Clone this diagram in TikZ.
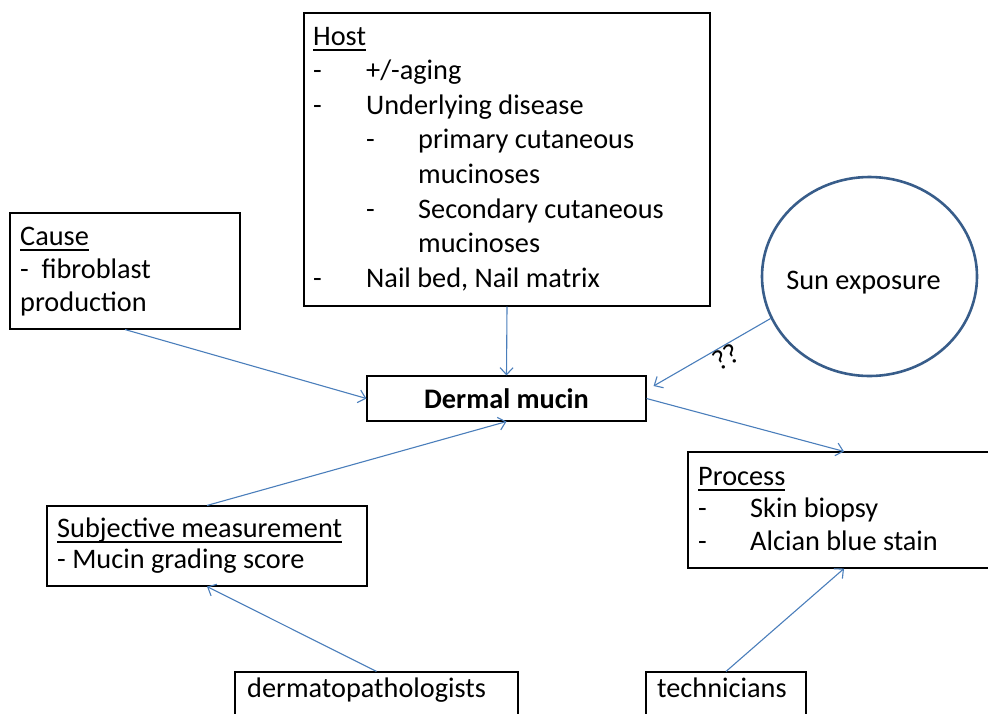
\documentclass[tikz,border=0pt]{standalone}
\usepackage{fontspec}
\setmainfont{Carlito}
\usetikzlibrary{arrows.meta,calc,shapes.geometric}
\definecolor{arrowblue}{RGB}{74,126,187}
\definecolor{circblue}{RGB}{56,93,138}
\newcommand\ulx[1]{\leavevmode\setbox0=\hbox{#1}\rlap{\rule[-5.5pt]{\wd0}{1.5pt}}\box0}
\newcommand\dsh[1]{\makebox[#1][l]{-}}
\begin{document}
\begin{tikzpicture}[x=1pt,y=-1pt,
  box/.style={draw=black, line width=1.1pt, inner sep=0pt},
  txt/.style={anchor=base west, inner sep=0pt},
  conn/.style={draw=arrowblue, line width=1.1pt, -{Straight Barb[length=7pt,width=13pt,line width=1.1pt]}}]
\useasboundingbox (0,0) rectangle (988,713);

% boxes
\node[box, minimum width=406pt, minimum height=293pt] (host) at (507,159.5) {};
\node[box, minimum width=230pt, minimum height=116pt] (cause) at (125,271) {};
\node[box, minimum width=279pt, minimum height=45pt,
      font=\fontsize{28.3pt}{34.6pt}\selectfont\bfseries] (dermal) at (506.5,398.5) {Dermal mucin};
\node[box, minimum width=312pt, minimum height=116pt] (process) at (844,510) {};
\node[box, minimum width=320pt, minimum height=80pt] (subj) at (207,546) {};
\node[box, minimum width=283pt, minimum height=68pt] (dermato) at (376.5,706) {};
\node[box, minimum width=160pt, minimum height=68pt] (tech) at (726,706) {};
\node[ellipse, draw=circblue, line width=2.6pt, minimum width=215pt, minimum height=199pt, inner sep=0pt] (sun) at (869.5,276.5) {};

% texts
\node[txt, font=\fontsize{28.3pt}{34.6pt}\selectfont] (hostT) at (313,45) {\begin{tabular}[t]{@{}l@{}}
\ulx{Host}\\
\dsh{53pt}+/-aging\\
\dsh{53pt}Underlying disease\\
\hspace*{53pt}\dsh{52pt}primary cutaneous\\
\hspace*{105pt}mucinoses\\
\hspace*{53pt}\dsh{52pt}Secondary cutaneous\\
\hspace*{105pt}mucinoses\\
\dsh{53pt}Nail bed, Nail matrix
\end{tabular}};
\node[txt, font=\fontsize{28.3pt}{33.3pt}\selectfont] (causeT) at (20,245) {\begin{tabular}[t]{@{}l@{}}
\ulx{Cause}\\
-\ \ fibroblast\\
production
\end{tabular}};
\node[txt, font=\fontsize{28.3pt}{31pt}\selectfont] (subjT) at (57,537) {\begin{tabular}[t]{@{}l@{}}
\ulx{Subjective measurement}\\
- Mucin grading score
\end{tabular}};
\node[txt, font=\fontsize{28.3pt}{32.5pt}\selectfont] (processT) at (698,485) {\begin{tabular}[t]{@{}l@{}}
\ulx{Process}\\
\dsh{52pt}Skin biopsy\\
\dsh{52pt}Alcian blue stain
\end{tabular}};
\node[txt, font=\fontsize{28.3pt}{34pt}\selectfont] (dermatoT) at (247,697) {dermatopathologists};
\node[txt, font=\fontsize{28.3pt}{34pt}\selectfont] (techT) at (657,697) {technicians};
\node[anchor=base, inner sep=0pt, font=\fontsize{28.3pt}{34pt}\selectfont] (sunT) at (863.5,289) {Sun exposure};

% connectors
\coordinate (sunEnd) at ($(dermal.east)+(7,-12.5)$);
\draw[conn] (host.south) -- (dermal.north);
\draw[conn] (cause.south) -- (dermal.west);
\draw[conn] (sun.203) -- (sunEnd);
\draw[conn] (dermal.east) -- (process.north);
\draw[conn] (subj.north) -- (dermal.south);
\draw[conn] (dermato.north) -- (subj.south);
\draw[conn] (tech.north) -- (process.south);
\node[rotate=29.5, inner sep=0pt, font=\fontsize{28.3pt}{34pt}\selectfont] (qq) at (726,357) {??};
\end{tikzpicture}
\end{document}
